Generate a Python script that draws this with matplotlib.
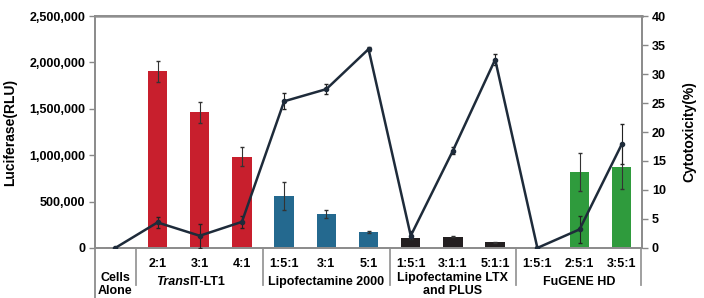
import numpy as np
import matplotlib
matplotlib.use("Agg")
import matplotlib.pyplot as plt

plt.rcParams["font.family"] = ["Liberation Sans Narrow", "Liberation Sans", "DejaVu Sans"]
plt.rcParams["font.weight"] = "bold"

# data
tick_labels = ["", "2:1", "3:1", "4:1", "1:5:1", "3:1", "5:1",
               "1:5:1", "3:1:1", "5:1:1", "1:5:1", "2:5:1", "3:5:1"]
luciferase = [5000, 1904000, 1462000, 984000, 564000, 363000, 172000,
              104000, 122000, 61000, 5000, 822000, 876000]
luciferase_err = [0, 110000, 110000, 105000, 150000, 45000, 8000,
                  10000, 8000, 8000, 0, 205000, 240000]
bar_colors = ["#c81f2d"] * 4 + ["#24698f"] * 3 + ["#231f20"] * 3 + ["#2f9b3d"] * 3
cytotoxicity = [0, 4.4, 2.1, 4.5, 25.3, 27.4, 34.3, 2.1, 16.8, 32.5, 0, 3.2, 17.9]
cytotoxicity_err = [0, 1.0, 2.1, 1.0, 1.4, 0.8, 0.3, 0.8, 0.6, 1.0, 0, 2.3, 3.4]
group_names = ["Cells\nAlone", "TransIT-LT1", "Lipofectamine 2000",
               "Lipofectamine LTX\nand PLUS", "FuGENE HD"]
group_centers = [0, 2, 5, 8, 11]
group_edges = [0.5, 3.5, 6.5, 9.5]

x = np.arange(len(tick_labels))

fig = plt.figure(figsize=(7.04, 2.98), dpi=100)
ax = fig.add_axes([0.135, 0.168, 0.777, 0.778])
ax2 = ax.twinx()

ax.bar(x, luciferase, width=0.46, color=bar_colors, zorder=2)
ax.errorbar(x[1:], luciferase[1:], yerr=luciferase_err[1:], fmt="none",
            ecolor="#333333", elinewidth=0.8, capsize=1.5, zorder=3)
ax.set_xlim(-0.48, 12.48)
ax.set_ylim(0, 2500000)
ax.set_yticks(np.arange(0, 2500001, 500000))
ax.set_yticklabels([f"{v:,}" for v in range(0, 2500001, 500000)], fontsize=9)
ax.set_xticks(x)
ax.set_xticklabels(tick_labels, fontsize=9)
ax.tick_params(axis="x", length=0, pad=7)
ax.tick_params(axis="y", length=4, width=1, color="#888888", pad=3)
ax.set_ylabel("Luciferase(RLU)", fontsize=10, family="Liberation Sans", weight="bold", labelpad=9)

ax2.errorbar(x, cytotoxicity, yerr=cytotoxicity_err, color="#1e2b3a", lw=1.8,
             marker="o", ms=3, ecolor="#222222", elinewidth=0.8, capsize=1.5, zorder=4)
ax2.set_ylim(0, 40)
ax2.set_yticks(range(0, 41, 5))
ax2.tick_params(axis="y", length=4, width=1, color="#888888", pad=3, labelsize=9)
ax2.set_ylabel("Cytotoxicity(%)", fontsize=10, family="Liberation Sans", weight="bold", labelpad=12)

for a in (ax, ax2):
    for s in a.spines.values():
        s.set_color("#8c8c8c")
        s.set_linewidth(1.3)
ax.spines["top"].set_color("#aaaaaa")
ax.spines["top"].set_linewidth(2)

# group separators and names under the axis
trans = ax.get_xaxis_transform()
ax.plot([-0.48, -0.48], [0, -0.22], transform=trans, color="#8c8c8c", lw=1.3, clip_on=False)
for e in group_edges:
    ax.plot([e, e], [0, -0.16], transform=trans, color="#999999", lw=1.3, clip_on=False)
ax.plot([12.45, 12.45], [0, -0.16], transform=trans, color="#999999", lw=1.3, clip_on=False)

for cx, name in zip(group_centers, group_names):
    if name == "TransIT-LT1":
        t1 = ax.text(cx - 0.24, -0.147, "Trans", transform=trans, ha="right", va="center",
                     fontsize=9, style="italic", weight="bold")
        ax.annotate("IT-LT1", xy=(1, 0), xycoords=t1, xytext=(-0.3, 0),
                    textcoords="offset points", va="bottom", ha="left",
                    fontsize=9, weight="bold")
    elif "\n" in name:
        ax.text(cx, -0.105, name, transform=trans, ha="center", va="top",
                fontsize=9, linespacing=1.05)
    else:
        ax.text(cx, -0.147, name, transform=trans, ha="center", va="center", fontsize=9)

fig.savefig("out.png", dpi=100)
